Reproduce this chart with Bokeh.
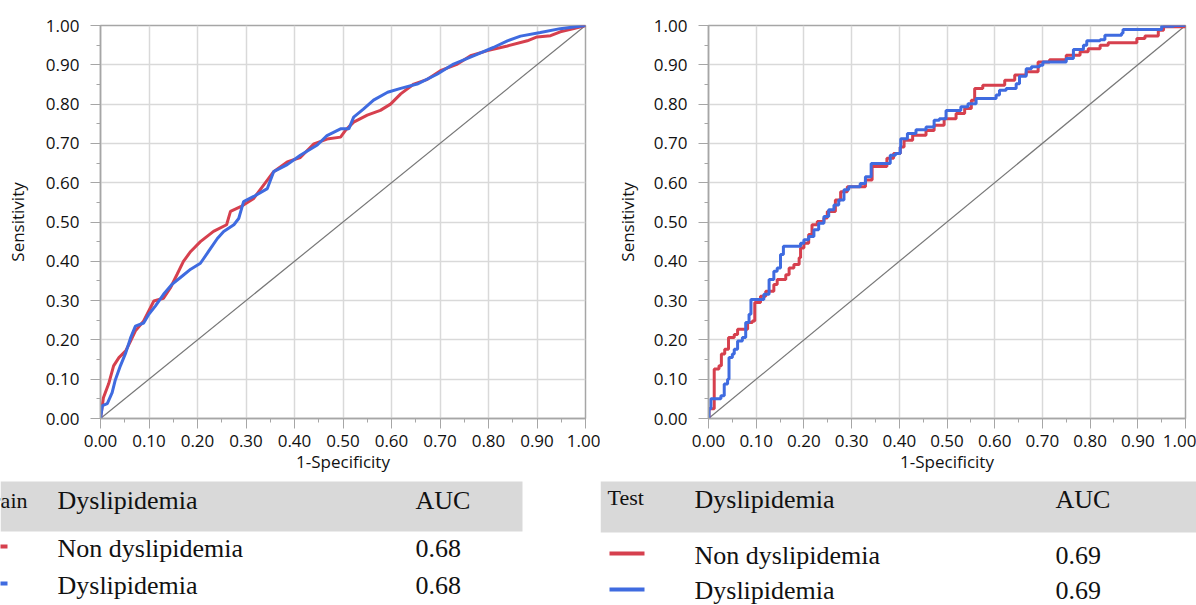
from bokeh.plotting import figure
from bokeh.layouts import column, row
from bokeh.models import Range1d, FixedTicker, NumeralTickFormatter
from bokeh.embed import file_html
from bokeh.resources import INLINE
from bokeh.core.properties import value

# ---------------- data ----------------
train_non_fpr = [0, 0.006, 0.017, 0.027, 0.038, 0.052, 0.062, 0.072, 0.089, 0.11, 0.13, 0.144, 0.158, 0.171, 0.186,
                 0.206, 0.233, 0.26, 0.268, 0.289, 0.316, 0.337, 0.357, 0.385, 0.412, 0.44, 0.467, 0.495, 0.505, 0.522,
                 0.55, 0.577, 0.598, 0.619, 0.646, 0.674, 0.701, 0.736, 0.763, 0.798, 0.839, 0.88, 0.90, 0.928, 0.948,
                 0.976, 1.0]
train_non_tpr = [0, 0.053, 0.089, 0.134, 0.155, 0.172, 0.197, 0.223, 0.248, 0.299, 0.306, 0.332, 0.367, 0.40, 0.425,
                 0.45, 0.476, 0.493, 0.527, 0.539, 0.56, 0.595, 0.628, 0.653, 0.664, 0.699, 0.711, 0.716, 0.733, 0.754,
                 0.772, 0.784, 0.80, 0.826, 0.851, 0.863, 0.885, 0.902, 0.923, 0.936, 0.948, 0.961, 0.971, 0.974, 0.984,
                 0.992, 1.0]

train_dys_fpr = [0, 0.004, 0.014, 0.024, 0.03, 0.041, 0.052, 0.062, 0.072, 0.089, 0.10, 0.113, 0.13, 0.148, 0.168,
                 0.186, 0.206, 0.22, 0.227, 0.241, 0.254, 0.275, 0.285, 0.295, 0.316, 0.344, 0.357, 0.385, 0.412, 0.447,
                 0.467, 0.495, 0.512, 0.522, 0.542, 0.563, 0.592, 0.619, 0.653, 0.694, 0.728, 0.769, 0.81, 0.839, 0.866,
                 0.907, 0.948, 1.0]
train_dys_tpr = [0, 0.033, 0.038, 0.066, 0.096, 0.134, 0.167, 0.205, 0.235, 0.243, 0.266, 0.286, 0.316, 0.342, 0.362,
                 0.38, 0.395, 0.42, 0.433, 0.458, 0.476, 0.493, 0.509, 0.552, 0.565, 0.585, 0.628, 0.646, 0.67, 0.696,
                 0.72, 0.737, 0.737, 0.767, 0.787, 0.81, 0.83, 0.84, 0.851, 0.876, 0.902, 0.923, 0.944, 0.961, 0.973,
                 0.982, 0.992, 1.0]

test_non_fpr = [0, 0.001, 0.012, 0.022, 0.027, 0.034, 0.042, 0.054, 0.061, 0.082, 0.092, 0.097, 0.109, 0.12, 0.137,
                0.144, 0.162, 0.169, 0.179, 0.19, 0.193, 0.20, 0.21, 0.217, 0.228, 0.242, 0.249, 0.266, 0.277, 0.291,
                0.329, 0.343, 0.374, 0.388, 0.402, 0.41, 0.428, 0.456, 0.473, 0.494, 0.519, 0.537, 0.551, 0.558, 0.575,
                0.621, 0.642, 0.666, 0.691, 0.715, 0.75, 0.779, 0.796, 0.821, 0.838, 0.898, 0.915, 0.943, 0.954, 1.0]
test_non_tpr = [0, 0.025, 0.126, 0.134, 0.164, 0.176, 0.206, 0.214, 0.227, 0.244, 0.248, 0.295, 0.311, 0.324, 0.341,
                0.354, 0.366, 0.383, 0.392, 0.409, 0.434, 0.446, 0.468, 0.493, 0.501, 0.51, 0.527, 0.556, 0.577, 0.59,
                0.607, 0.641, 0.662, 0.674, 0.691, 0.708, 0.721, 0.733, 0.746, 0.763, 0.776, 0.789, 0.81, 0.84, 0.848,
                0.861, 0.874, 0.882, 0.907, 0.913, 0.924, 0.933, 0.941, 0.95, 0.956, 0.967, 0.973, 0.988, 0.997, 1.0]

test_dys_fpr = [0, 0.001, 0.005, 0.026, 0.033, 0.04, 0.043, 0.05, 0.054, 0.061, 0.071, 0.078, 0.085, 0.089, 0.116,
                0.127, 0.137, 0.144, 0.151, 0.157, 0.193, 0.20, 0.21, 0.221, 0.231, 0.242, 0.252, 0.263, 0.273, 0.284,
                0.294, 0.318, 0.329, 0.341, 0.381, 0.392, 0.402, 0.403, 0.417, 0.435, 0.456, 0.473, 0.484, 0.498, 0.529,
                0.544, 0.561, 0.603, 0.61, 0.624, 0.645, 0.652, 0.666, 0.677, 0.694, 0.701, 0.75, 0.765, 0.786, 0.793,
                0.821, 0.831, 0.866, 0.869, 0.95, 0.975, 1.0]
test_dys_tpr = [0, 0.025, 0.05, 0.058, 0.088, 0.10, 0.155, 0.164, 0.176, 0.197, 0.206, 0.244, 0.265, 0.303, 0.316,
                0.354, 0.375, 0.383, 0.417, 0.438, 0.446, 0.455, 0.463, 0.48, 0.497, 0.514, 0.531, 0.543, 0.556, 0.582,
                0.59, 0.598, 0.615, 0.649, 0.67, 0.674, 0.691, 0.712, 0.725, 0.735, 0.742, 0.759, 0.763, 0.784, 0.793,
                0.801, 0.814, 0.823, 0.835, 0.84, 0.852, 0.871, 0.89, 0.895, 0.899, 0.907, 0.916, 0.939, 0.95, 0.961,
                0.964, 0.975, 0.98, 0.99, 0.998, 1.0, 1.0]

chance = [0.0, 1.0]
major_ticks = [0.0, 0.1, 0.2, 0.3, 0.4, 0.5, 0.6, 0.7, 0.8, 0.9, 1.0]
minor_ticks = [0.05, 0.15, 0.25, 0.35, 0.45, 0.55, 0.65, 0.75, 0.85, 0.95]

groups = ["Non dyslipidemia", "Dyslipidemia"]
header = ["Dyslipidemia", "AUC"]
train_title = "Train"
test_title = "Test"
train_auc = ["0.68", "0.68"]
test_auc = ["0.69", "0.69"]

RED = "#d6404e"
BLUE = "#3f6be0"
GRID = "#d9d9d9"
FRAME = "#a6a6a6"
SANS = "Open Sans"
SERIF = "Liberation Serif"

PLOT_H = 475
TABLE_H = 605 - PLOT_H
TABLE_TOP = 135 - TABLE_H  # local table coordinates start 470px down the page


def roc_plot(width, left, right, top, ylab_standoff, non, dys, stepped):
    p = figure(width=width, height=PLOT_H, x_range=Range1d(0, 1), y_range=Range1d(0, 1),
               toolbar_location=None, output_backend="svg",
               min_border_left=left, min_border_right=right, min_border_top=top,
               min_border_bottom=PLOT_H - 418)
    p.background_fill_color = "white"
    p.border_fill_color = "white"
    p.outline_line_color = FRAME
    p.outline_line_width = 1.5
    for ax in (p.xaxis[0], p.yaxis[0]):
        ax.ticker = FixedTicker(ticks=major_ticks, minor_ticks=minor_ticks)
        ax.formatter = NumeralTickFormatter(format="0.00")
        ax.axis_line_color = FRAME
        ax.axis_line_width = 1.5
        ax.major_tick_line_color = FRAME
        ax.minor_tick_line_color = FRAME
        ax.major_tick_out = 10
        ax.major_tick_in = 0
        ax.minor_tick_out = 4
        ax.minor_tick_in = 0
        ax.major_label_text_font = SANS
        ax.major_label_text_font_size = "17px"
        ax.major_label_text_color = "#111111"
        ax.axis_label_text_font = SANS
        ax.axis_label_text_font_size = "17px"
        ax.axis_label_text_font_style = "normal"
        ax.axis_label_text_color = "#111111"
    p.xaxis.axis_label = "1-Specificity"
    p.yaxis.axis_label = "Sensitivity"
    p.xaxis.major_label_standoff = 6
    p.xaxis.axis_label_standoff = 0
    p.yaxis.major_label_standoff = 11
    p.yaxis.axis_label_standoff = ylab_standoff
    p.grid.grid_line_color = GRID
    p.grid.grid_line_width = 1.5
    p.line(chance, chance, line_color="#777777", line_width=1.2)
    if stepped:
        p.step(non[0], non[1], mode="after", line_color=RED, line_width=3)
        p.step(dys[0], dys[1], mode="after", line_color=BLUE, line_width=3)
    else:
        p.line(non[0], non[1], line_color=RED, line_width=3)
        p.line(dys[0], dys[1], line_color=BLUE, line_width=3)
    return p


def table(width, band_right, band_bottom, title, title_x, title_align, title_y, col1_x, col2_x, head_y,
          row_y, line_x0, line_x1, line_y, aucs):
    t = figure(width=width, height=TABLE_H, x_range=Range1d(0, width), y_range=Range1d(135, TABLE_TOP),
               toolbar_location=None, output_backend="svg", min_border=0,
               x_axis_location=None, y_axis_location=None)
    t.grid.visible = False
    t.outline_line_color = None
    t.background_fill_color = "white"
    t.border_fill_color = "white"
    t.quad(left=[0], right=[band_right], top=[11], bottom=[band_bottom], fill_color="#d9d9d9", line_color=None)
    t.text(x=[title_x], y=[title_y], text=[title], text_font=value(SERIF), text_font_size="22px",
           text_baseline="alphabetic", text_align=title_align, text_color="#111111")
    t.text(x=[col1_x, col2_x], y=[head_y, head_y], text=header, text_font=value(SERIF), text_font_size="26px",
           text_baseline="alphabetic", text_color="#111111")
    t.text(x=[col1_x, col1_x], y=row_y, text=groups, text_font=value(SERIF), text_font_size="26px",
           text_baseline="alphabetic", text_color="#111111")
    t.text(x=[col2_x, col2_x], y=row_y, text=aucs, text_font=value(SERIF), text_font_size="26px",
           text_baseline="alphabetic", text_color="#111111")
    t.segment(x0=[line_x0], x1=[line_x1], y0=[line_y[0]], y1=[line_y[0]], line_color=RED, line_width=4)
    t.segment(x0=[line_x0], x1=[line_x1], y0=[line_y[1]], y1=[line_y[1]], line_color=BLUE, line_width=4)
    return t


p1 = roc_plot(600, 100, 15, 23, 14, (train_non_fpr, train_non_tpr), (train_dys_fpr, train_dys_tpr), False)
p2 = roc_plot(596, 108, 11, 25, 12, (test_non_fpr, test_non_tpr), (test_dys_fpr, test_dys_tpr), True)

t1 = table(600, 522, 61, train_title, 27, "right", 30, 57, 415, 30, [78, 115], -5, 7, [76, 113], train_auc)
t2 = table(596, 596, 62, test_title, 7, "left", 27, 94, 455, 29, [85, 120], 9, 44, [83, 119], test_auc)

layout = column(row(p1, p2), row(t1, t2))
layout.styles = {"position": "absolute", "left": "0px", "top": "0px"}

open("out.html", "w").write(file_html(layout, INLINE))
